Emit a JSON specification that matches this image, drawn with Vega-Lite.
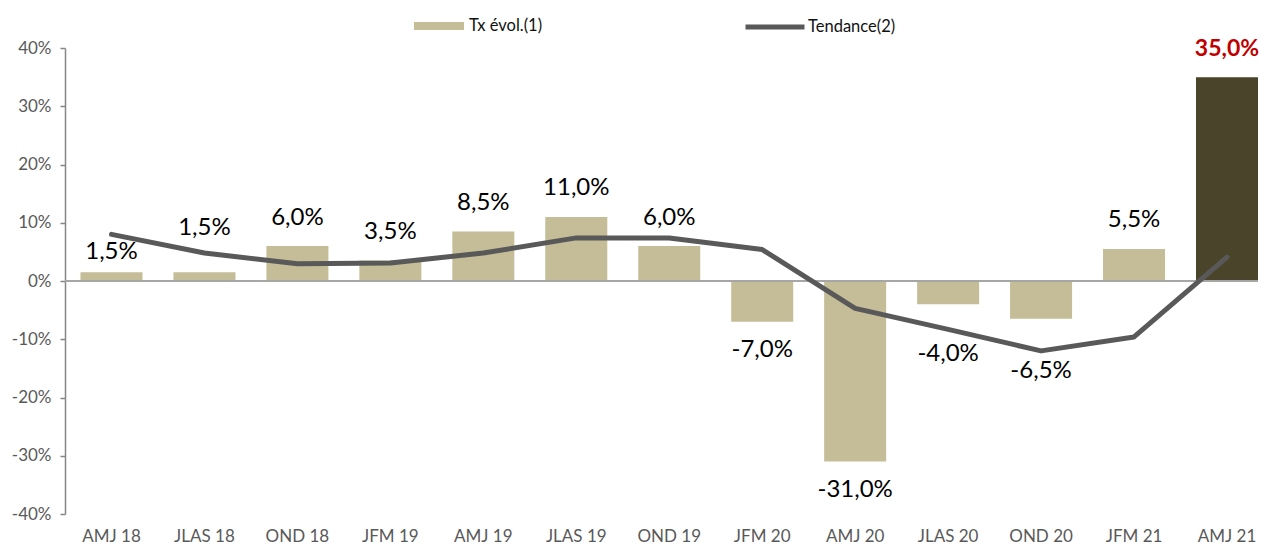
{
  "$schema": "https://vega.github.io/schema/vega-lite/v6.json",
  "autosize": "none",
  "width": 1193,
  "height": 466,
  "padding": {"left": 65, "top": 48, "right": 7, "bottom": 33},
  "background": "white",
  "config": {
    "font": "Lato",
    "view": {"stroke": null},
    "axis": {"grid": false}
  },
  "data": {
    "values": [
      {"p": "AMJ 18", "tx": 1.5, "tend": 8.0, "lab": "1,5%"},
      {"p": "JLAS 18", "tx": 1.5, "tend": 4.8, "lab": "1,5%"},
      {"p": "OND 18", "tx": 6.0, "tend": 2.95, "lab": "6,0%"},
      {"p": "JFM 19", "tx": 3.5, "tend": 3.1, "lab": "3,5%"},
      {"p": "AMJ 19", "tx": 8.5, "tend": 4.8, "lab": "8,5%"},
      {"p": "JLAS 19", "tx": 11.0, "tend": 7.4, "lab": "11,0%"},
      {"p": "OND 19", "tx": 6.0, "tend": 7.4, "lab": "6,0%"},
      {"p": "JFM 20", "tx": -7.0, "tend": 5.4, "lab": "-7,0%"},
      {"p": "AMJ 20", "tx": -31.0, "tend": -4.7, "lab": "-31,0%"},
      {"p": "JLAS 20", "tx": -4.0, "tend": -8.3, "lab": "-4,0%"},
      {"p": "OND 20", "tx": -6.5, "tend": -12.0, "lab": "-6,5%"},
      {"p": "JFM 21", "tx": 5.5, "tend": -9.6, "lab": "5,5%"},
      {"p": "AMJ 21", "tx": 35.0, "tend": 4.1, "lab": "35,0%"}
    ]
  },
  "encoding": {
    "x": {
      "field": "p", "type": "nominal", "sort": null, "title": null,
      "scale": {"paddingInner": 0.333, "paddingOuter": 0.0833, "align": 1},
      "axis": {"domain": false, "ticks": false, "labelAngle": 0, "labelFontSize": 17, "labelColor": "#595959", "labelPadding": 14}
    }
  },
  "layer": [
    {
      "mark": {"type": "bar"},
      "encoding": {
        "y": {
          "field": "tx", "type": "quantitative", "title": null,
          "scale": {"domain": [-40, 40], "nice": false},
          "axis": {"values": [-40, -30, -20, -10, 0, 10, 20, 30, 40], "labelExpr": "datum.value + '%'", "labelFontSize": 17, "labelColor": "#595959", "domainColor": "#868686", "domainWidth": 1.5, "tickColor": "#868686", "tickWidth": 1.5, "tickSize": 5, "labelPadding": 9}
        },
        "fill": {
          "datum": "Tx évol.(1)", "type": "nominal",
          "condition": {"test": "datum.p === 'AMJ 21'", "value": "#4A442A"},
          "scale": {"domain": ["Tx évol.(1)"], "range": ["#C4BD97"]},
          "legend": {"title": null, "orient": "none", "legendX": 349, "legendY": -47, "symbolType": "M-1,-0.16H1V0.16H-1Z", "symbolSize": 2500, "symbolStrokeWidth": 0, "labelFontSize": 16.5, "labelColor": "#111111", "labelOffset": 5}
        }
      }
    },
    {
      "mark": {"type": "rule", "color": "#A6A6A6", "strokeWidth": 1.5},
      "encoding": {"y": {"datum": 0, "type": "quantitative"}, "x": null}
    },
    {
      "mark": {"type": "line", "strokeWidth": 5, "strokeCap": "round", "strokeJoin": "round"},
      "encoding": {
        "y": {"field": "tend", "type": "quantitative"},
        "stroke": {
          "datum": "Tendance(2)", "type": "nominal",
          "scale": {"domain": ["Tendance(2)"], "range": ["#595959"]},
          "legend": {"title": null, "orient": "none", "legendX": 678, "legendY": -53, "symbolType": "stroke", "symbolSize": 3481, "symbolStrokeWidth": 5, "labelFontSize": 16.5, "labelColor": "#111111", "labelOffset": 1}
        }
      }
    },
    {
      "transform": [{"filter": {"field": "p", "oneOf": ["OND 18", "JFM 19", "AMJ 19", "JLAS 19", "OND 19", "JFM 21"]}}],
      "mark": {"type": "text", "fontSize": 24, "color": "#000000", "baseline": "middle", "dy": -28.5},
      "encoding": {"y": {"field": "tx", "type": "quantitative"}, "text": {"field": "lab"}}
    },
    {
      "transform": [{"filter": {"field": "p", "equal": "AMJ 18"}}],
      "mark": {"type": "text", "fontSize": 24, "color": "#000000", "baseline": "middle", "dy": -20},
      "encoding": {"y": {"field": "tx", "type": "quantitative"}, "text": {"field": "lab"}}
    },
    {
      "transform": [{"filter": {"field": "p", "equal": "JLAS 18"}}],
      "mark": {"type": "text", "fontSize": 24, "color": "#000000", "baseline": "middle", "dy": -44},
      "encoding": {"y": {"field": "tx", "type": "quantitative"}, "text": {"field": "lab"}}
    },
    {
      "transform": [{"filter": {"field": "p", "oneOf": ["JFM 20", "AMJ 20"]}}],
      "mark": {"type": "text", "fontSize": 24, "color": "#000000", "baseline": "middle", "dy": 28},
      "encoding": {"y": {"field": "tx", "type": "quantitative"}, "text": {"field": "lab"}}
    },
    {
      "transform": [{"filter": {"field": "p", "equal": "JLAS 20"}}],
      "mark": {"type": "text", "fontSize": 24, "color": "#000000", "baseline": "middle", "dy": 50},
      "encoding": {"y": {"field": "tx", "type": "quantitative"}, "text": {"field": "lab"}}
    },
    {
      "transform": [{"filter": {"field": "p", "equal": "OND 20"}}],
      "mark": {"type": "text", "fontSize": 24, "color": "#000000", "baseline": "middle", "dy": 52},
      "encoding": {"y": {"field": "tx", "type": "quantitative"}, "text": {"field": "lab"}}
    },
    {
      "transform": [{"filter": {"field": "p", "equal": "AMJ 21"}}],
      "mark": {"type": "text", "fontSize": 23, "fontWeight": "bold", "color": "#C00000", "baseline": "middle", "dy": -28.5},
      "encoding": {"y": {"field": "tx", "type": "quantitative"}, "text": {"field": "lab"}}
    }
  ]
}
